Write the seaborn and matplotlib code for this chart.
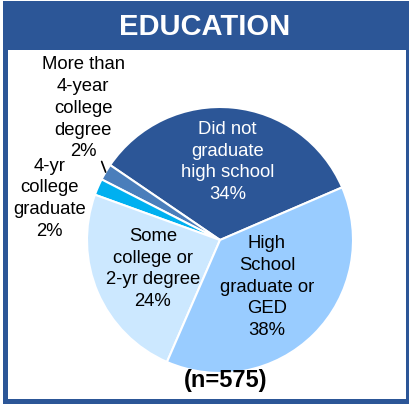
import matplotlib
matplotlib.use("Agg")
import matplotlib.pyplot as plt
from matplotlib.patches import Rectangle
import seaborn as sns
import numpy as np

sns.set_theme(style="white")
plt.rcParams['font.family'] = ['Liberation Sans', 'DejaVu Sans']

# data (counter-clockwise from the boundary at ~23 degrees)
categories = ["Did not\ngraduate\nhigh school", "More than\n4-year\ncollege\ndegree",
              "4-yr\ncollege\ngraduate", "Some\ncollege or\n2-yr degree",
              "High\nSchool\ngraduate or\nGED"]
percents = [34, 2, 2, 24, 38]
colors = ["#2C5697", "#4A7EBB", "#00B0F0", "#CCE8FF", "#99CCFF"]
text_colors = ["white", "black", "black", "black", "black"]
title = "EDUCATION"
note = "(n=575)"

W, H = 409, 404
fig = plt.figure(figsize=(W / 100, H / 100), dpi=100)

# frame + title band
bg = fig.add_axes([0, 0, 1, 1])
bg.set_xlim(0, W)
bg.set_ylim(H, 0)
bg.axis("off")
bg.add_patch(Rectangle((3, 1), 406, 403, color="#2C5697", lw=0))
bg.add_patch(Rectangle((8, 50), 398, 349, color="white", lw=0))
bg.text(205, 27, title, color="white", fontsize=21, fontweight="bold",
        ha="center", va="center")
fig.text(226 / W, 1 - 381 / H, note, color="black", fontsize=17,
         fontweight="bold", ha="center", va="center", zorder=10)

# pie
cx, cy, r = 220, 240, 133
ax = fig.add_axes([(cx - r) / W, (H - cy - r) / H, 2 * r / W, 2 * r / H])
wedges, _ = ax.pie(percents, colors=colors, startangle=23.3, counterclock=True,
                   radius=1, wedgeprops=dict(edgecolor="white", linewidth=1.5))
ax.set_xlim(-1, 1)
ax.set_ylim(-1, 1)

# label placement: radius from centre (pie units), for inside labels
label_r = [0.59, None, None, 0.55, 0.50]
outside_xy = {1: (-1.03, 0.99), 2: (-1.28, 0.31)}
for i, w in enumerate(wedges):
    mid = np.deg2rad((w.theta1 + w.theta2) / 2)
    txt = f"{categories[i]}\n{percents[i]}%"
    if label_r[i] is not None:
        x, y = label_r[i] * np.cos(mid), label_r[i] * np.sin(mid)
    else:
        x, y = outside_xy[i]
    ax.text(x, y, txt, color=text_colors[i], fontsize=13.3, ha="center",
            va="center", linespacing=1.36, clip_on=False)

# leader line for the small "More than 4-year" slice
w = wedges[1]
mid = np.deg2rad((w.theta1 + w.theta2) / 2)
x0, y0 = np.cos(mid), np.sin(mid)
ax.plot([x0, x0 - 0.03], [y0, y0 + 0.08], color="black", lw=1.2, clip_on=False)

fig.savefig("out.png", dpi=100)
